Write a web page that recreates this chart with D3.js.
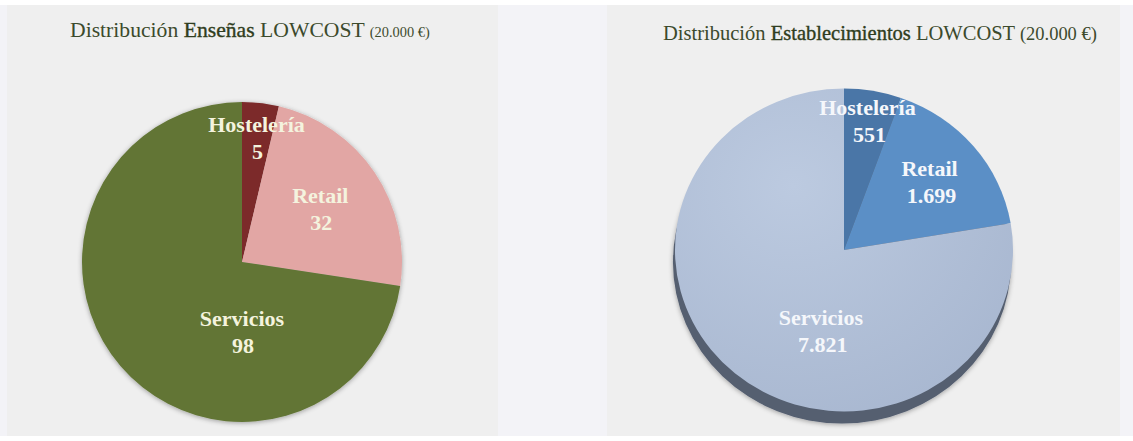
<!DOCTYPE html>
<html><head><meta charset="utf-8">
<script src="https://cdn.jsdelivr.net/npm/d3@7"></script>
<style>html,body{margin:0;padding:0;background:#ffffff;}svg{display:block;}</style>
</head><body>
<svg id="c" width="1133" height="441"></svg>
<script>
// ---- data ----
const categories = ["Hostelería", "Retail", "Servicios"];
const ensenasValues = [5, 32, 98];
const ensenasLabels = ["5", "32", "98"];
const establecimientosValues = [551, 1699, 7821];
const establecimientosLabels = ["551", "1.699", "7.821"];
const titleLeft = ["Distribución ", "Enseñas", " LOWCOST ", "(20.000 €)"];
const titleRight = ["Distribución ", "Establecimientos", " LOWCOST ", "(20.000 €)"];

const svg = d3.select("#c");
const defs = svg.append("defs");
const W = 1133, H = 441;
const serif = "'Liberation Serif','Times New Roman',serif";

svg.append("rect").attr("x",0).attr("y",5).attr("width",W).attr("height",431).attr("fill","#f3f3f7");
svg.append("rect").attr("x",7).attr("y",5).attr("width",491).attr("height",431).attr("fill","#efefef");
svg.append("rect").attr("x",607).attr("y",5).attr("width",513).attr("height",431).attr("fill","#efefef");

// filters
const f = defs.append("filter").attr("id","soft").attr("x","-10%").attr("y","-10%").attr("width","120%").attr("height","120%");
f.append("feGaussianBlur").attr("in","SourceAlpha").attr("stdDeviation",2.5).attr("result","b");
f.append("feOffset").attr("in","b").attr("dx",0).attr("dy",1).attr("result","o");
f.append("feComponentTransfer").attr("in","o").attr("result","s").append("feFuncA").attr("type","linear").attr("slope",0.35);
const m = f.append("feMerge"); m.append("feMergeNode").attr("in","s"); m.append("feMergeNode").attr("in","SourceGraphic");

const g2 = defs.append("radialGradient").attr("id","svcGrad").attr("cx","35%").attr("cy","30%").attr("r","80%");
g2.append("stop").attr("offset","0%").attr("stop-color","#bccae0");
g2.append("stop").attr("offset","100%").attr("stop-color","#a8b7d0");

// title fitted to the widths seen in the reference
function title(parts, x, y, mainW, smallW) {
  const t = svg.append("text").attr("x",x).attr("y",y).attr("font-family",serif).attr("fill","#3c4a2c");
  const s0 = t.append("tspan").attr("font-size",20).text(parts[0]);
  const s1 = t.append("tspan").attr("font-size",20).attr("fill","#2f3d20").attr("stroke","#2f3d20").attr("stroke-width",0.35).text(parts[1]);
  const s2 = t.append("tspan").attr("font-size",20).text(parts[2]);
  const s3 = t.append("tspan").attr("font-size",14).text(parts[3]);
  const wMain = s0.node().getComputedTextLength()+s1.node().getComputedTextLength()+s2.node().getComputedTextLength();
  const big = 20*mainW/wMain;
  [s0,s1,s2].forEach(s=>s.attr("font-size",big.toFixed(2)));
  const small = 14*smallW/s3.node().getComputedTextLength();
  s3.attr("font-size",small.toFixed(2));
}
title(titleLeft, 70, 37, 300, 60);
title(titleRight, 663, 40, 357, 77);

const pie = d3.pie().sort(null).value(d => d);

// ---- left pie ----
{
  const cx = 242, cy = 262, R = 160;
  const colors = d3.scaleOrdinal().domain(categories).range(["#7b2b2b", "#e2a6a4", "#627536"]);
  const arcs = pie(ensenasValues);
  const arc = d3.arc().innerRadius(0).outerRadius(R);
  const g = svg.append("g").attr("transform",`translate(${cx},${cy})`);
  const gp = g.append("g").attr("filter","url(#soft)");
  gp.selectAll("path").data(arcs).join("path")
    .attr("d", arc).attr("fill",(d,i)=>colors(categories[i]));
  const place = [{r:0.78,a:null},{r:0.59,a:null},{r:0.44,a:Math.PI}];
  arcs.forEach((d,i) => {
    const a = place[i].a === null ? (d.startAngle+d.endAngle)/2 : place[i].a;
    const r = place[i].r*R;
    const x = r*Math.sin(a), y = -r*Math.cos(a);
    const t = g.append("text").attr("font-family",serif).attr("font-weight","bold").attr("font-size",22)
      .attr("fill","#f4f3de").attr("text-anchor","middle");
    t.append("tspan").attr("x",x).attr("y",y-6).text(categories[i]);
    t.append("tspan").attr("x",x+1).attr("y",y+21).text(ensenasLabels[i]);
  });
}

// ---- right pie (3D tilted) ----
{
  const cx = 844, cy = 250, R = 165, sx = 169/165, sy = 161.5/165, depth = 12;
  const colors = d3.scaleOrdinal().domain(categories).range(["#4a76a7", "#5b8fc6", "url(#svcGrad)"]);
  const arcs = pie(establecimientosValues);
  const arc = d3.arc().innerRadius(0).outerRadius(R);
  const g = svg.append("g").attr("transform",`translate(${cx},${cy})`);
  // depth side
  g.append("g").attr("filter","url(#soft)").attr("transform",`translate(-2,${depth}) scale(${sx},${sy})`)
    .append("path").attr("d", d3.arc().innerRadius(0).outerRadius(R)({startAngle:0,endAngle:2*Math.PI})).attr("fill","#545e70");
  const top = g.append("g").attr("transform",`scale(${sx},${sy})`);
  top.selectAll("path").data(arcs).join("path").attr("d",arc).attr("fill",(d,i)=>colors(categories[i]));
  const place = [{r:0.81,a:null},{r:0.66,a:null},{r:0.52,a:Math.PI*1.085}];
  arcs.forEach((d,i) => {
    const a = place[i].a === null ? (d.startAngle+d.endAngle)/2 : place[i].a;
    const r = place[i].r*R;
    const x = r*Math.sin(a)*sx, y = -r*Math.cos(a)*sy;
    const t = g.append("text").attr("font-family",serif).attr("font-weight","bold").attr("font-size",22)
      .attr("fill","#f5f7fb").attr("text-anchor","middle");
    t.append("tspan").attr("x",x).attr("y",y-6).text(categories[i]);
    t.append("tspan").attr("x",x+2).attr("y",y+21).text(establecimientosLabels[i]);
  });
}
</script>
</body></html>
